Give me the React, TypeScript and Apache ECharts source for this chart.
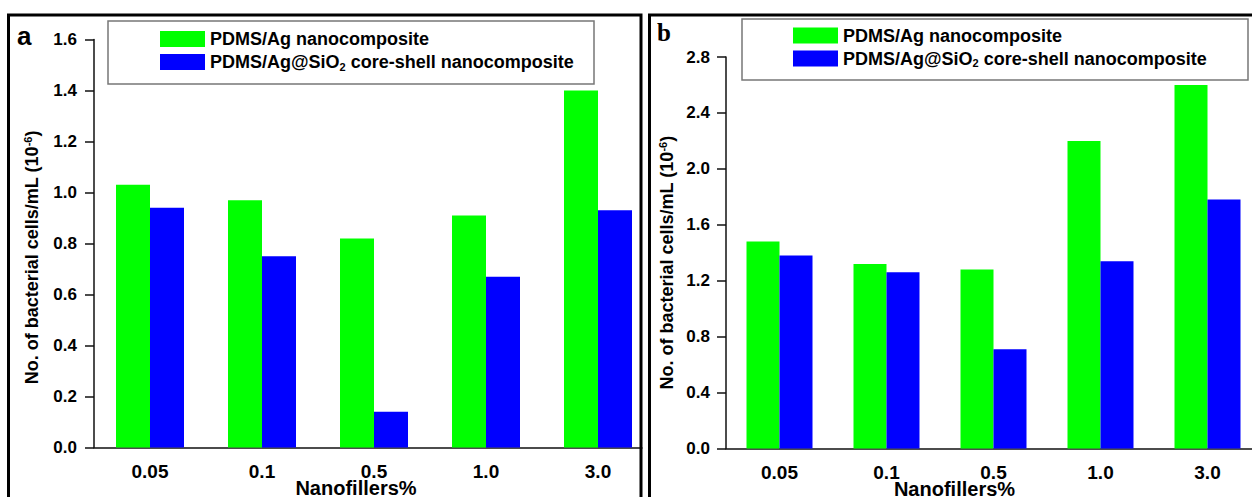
import React, { useEffect, useRef } from "react";
import * as echarts from "echarts";

// ---- data ----
const categories = ["0.05", "0.1", "0.5", "1.0", "3.0"];
const seriesNames = ["PDMS/Ag nanocomposite", "PDMS/Ag@SiO2 core-shell nanocomposite"];
// panel a
const agA = [1.03, 0.97, 0.82, 0.91, 1.4];
const coreA = [0.94, 0.75, 0.14, 0.67, 0.93];
// panel b
const agB = [1.48, 1.32, 1.28, 2.2, 2.6];
const coreB = [1.38, 1.26, 0.71, 1.34, 1.78];
// axes
const yAxisA = { min: 0, max: 1.6, interval: 0.2 };
const yAxisB = { min: 0, max: 2.8, interval: 0.4 };
const xName = "Nanofillers%";
const yName = "No. of bacterial cells/mL (10{sup|-6})";

const FONT = "'Liberation Sans', Arial, Helvetica, sans-serif";
const GREEN = "#00ff00";
const BLUE = "#0000ff";

const legendRich = {
  t: { fontFamily: FONT, fontWeight: "bold", fontSize: 18, color: "#000", lineHeight: 20 },
  sub: { fontFamily: FONT, fontWeight: "bold", fontSize: 11, color: "#000", lineHeight: 20, verticalAlign: "bottom", padding: [10, 0, 0, 0] },
};
const legendFormatter = (name: string) =>
  name === seriesNames[1]
    ? "{t|PDMS/Ag@SiO}{sub|2}{t| core-shell nanocomposite}"
    : "{t|" + name + "}";

function makeLegend(left: number, top: number) {
  return {
    left,
    top,
    orient: "vertical",
    padding: 0,
    itemWidth: 45,
    itemHeight: 16,
    itemGap: 3,
    borderWidth: 0,
    icon: "rect",
    data: seriesNames,
    formatter: legendFormatter,
    textStyle: { rich: legendRich },
  };
}

function makeXAxis(gridIndex: number, namePad: number) {
  return {
    type: "category",
    gridIndex,
    data: categories,
    name: xName,
    nameLocation: "middle",
    nameGap: 32.5,
    nameMoveOverlap: false,
    nameTextStyle: {
      fontFamily: FONT,
      fontWeight: "bold",
      fontSize: 20,
      color: "#000",
      lineHeight: 15,
      padding: [0, namePad, 0, 0],
    },
    axisLine: { lineStyle: { color: "#111", width: 1.5 } },
    axisTick: { alignWithLabel: true, length: 8, lineStyle: { color: "#111", width: 1.5 } },
    axisLabel: { fontFamily: FONT, fontWeight: "bold", fontSize: 19, color: "#000", margin: 16, lineHeight: 15 },
    splitLine: { show: false },
  };
}

function makeYAxis(gridIndex: number, cfg: { min: number; max: number; interval: number }, nameGap: number, namePad: number, labelMargin: number) {
  return {
    type: "value",
    gridIndex,
    min: cfg.min,
    max: cfg.max,
    interval: cfg.interval,
    name: yName,
    nameLocation: "middle",
    nameGap,
    nameMoveOverlap: false,
    nameTextStyle: {
      fontFamily: FONT,
      fontWeight: "bold",
      fontSize: 18,
      color: "#000",
      lineHeight: 20,
      padding: [0, namePad, 0, 0],
      rich: {
        sup: { fontFamily: FONT, fontWeight: "bold", fontSize: 11, color: "#000", verticalAlign: "top", lineHeight: 20 },
      },
    },
    axisLine: { show: true, lineStyle: { color: "#111", width: 1.5 } },
    axisTick: { show: true, length: 9, lineStyle: { color: "#111", width: 1.5 } },
    axisLabel: {
      fontFamily: FONT,
      fontWeight: "bold",
      fontSize: 17,
      color: "#000",
      margin: labelMargin,
      formatter: (v: number) => v.toFixed(1),
    },
    splitLine: { show: false },
  };
}

function barSeries(name: string, data: number[], color: string, axisIndex: number, width: number) {
  return {
    type: "bar",
    name,
    data,
    xAxisIndex: axisIndex,
    yAxisIndex: axisIndex,
    barWidth: width,
    barGap: "0%",
    itemStyle: { color },
  };
}

export default function App() {
  const ref = useRef<HTMLDivElement>(null);
  useEffect(() => {
    if (!ref.current) return;
    const chart = echarts.init(ref.current, null, { renderer: "svg" });
    chart.setOption({
      animation: false,
      backgroundColor: "#fff",
      grid: [
        { left: 94, top: 39.5, width: 560, height: 408, outerBoundsMode: "none", containLabel: false },
        { left: 726, top: 57, width: 535, height: 391.5, outerBoundsMode: "none", containLabel: false },
      ],
      legend: [makeLegend(160, 30), makeLegend(793, 26.5)],
      xAxis: [makeXAxis(0, 36), makeXAxis(1, 78)],
      yAxis: [makeYAxis(0, yAxisA, 52, 28, 17), makeYAxis(1, yAxisB, 49, 20, 16)],
      series: [
        barSeries(seriesNames[0], agA, GREEN, 0, 34),
        barSeries(seriesNames[1], coreA, BLUE, 0, 34),
        barSeries(seriesNames[0], agB, GREEN, 1, 33),
        barSeries(seriesNames[1], coreB, BLUE, 1, 33),
      ],
      graphic: {
        elements: [
          {
            type: "rect",
            z: 100,
            shape: { x: 642.5, y: 0, width: 14, height: 497 },
            style: { fill: "#fff" },
          },
          {
            type: "rect",
            z: 99,
            shape: { x: 108, y: 21, width: 486, height: 63 },
            style: { fill: "none", stroke: "#777", lineWidth: 1.5 },
          },
          {
            type: "rect",
            z: 99,
            shape: { x: 742, y: 19, width: 506, height: 61 },
            style: { fill: "none", stroke: "#777", lineWidth: 1.5 },
          },
          {
            type: "rect",
            z: 101,
            shape: { x: 8.5, y: 15, width: 632.5, height: 520 },
            style: { fill: "none", stroke: "#000", lineWidth: 3 },
          },
          {
            type: "rect",
            z: 101,
            shape: { x: 649.5, y: 15, width: 640, height: 520 },
            style: { fill: "none", stroke: "#000", lineWidth: 3 },
          },
          {
            type: "text",
            z: 101,
            x: 17,
            y: 36,
            style: { text: "a", fill: "#000", font: "bold 26px " + FONT, verticalAlign: "middle", align: "left" },
          },
          {
            type: "text",
            z: 101,
            x: 657,
            y: 32,
            style: { text: "b", fill: "#000", font: "bold 25px 'Liberation Serif', 'Times New Roman', serif", verticalAlign: "middle", align: "left" },
          },
        ],
      },
    });
    return () => chart.dispose();
  }, []);
  return (
    <div
      ref={ref}
      style={{ position: "fixed", left: 0, top: 0, width: 1252, height: 497, background: "#fff" }}
    />
  );
}
